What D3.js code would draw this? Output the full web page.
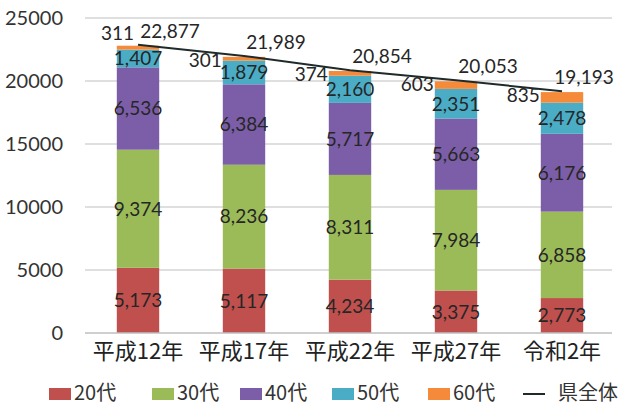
<!DOCTYPE html>
<html>
<head>
<meta charset="utf-8">
<script src="https://cdn.jsdelivr.net/npm/d3@7"></script>
<style>
  body { margin: 0; background: #fff; }
  svg { display: block; }
</style>
</head>
<body>
<script>
const w = 628
const h = 406

// Data: stacked counts by age group, plus the prefecture total line
const years = ["平成12年", "平成17年", "平成22年", "平成27年", "令和2年"]
const ageGroups = ["20代", "30代", "40代", "50代", "60代"]
const age20 = [5173, 5117, 4234, 3375, 2773]
const age30 = [9374, 8236, 8311, 7984, 6858]
const age40 = [6536, 6384, 5717, 5663, 6176]
const age50 = [1407, 1879, 2160, 2351, 2478]
const age60 = [311, 301, 374, 603, 835]
const totals = [22877, 21989, 20854, 20053, 19193]
const yTicks = [0, 5000, 10000, 15000, 20000, 25000]

const colors = ["#c0504d", "#9bbb59", "#7b5ea7", "#4bacc6", "#f58a3a"]
const lineColor = "#1e2b2a"

const numFont = "Lato, 'Open Sans', sans-serif"
const jpFont = "'Noto Sans CJK JP', sans-serif"

const rows = years.map((y, i) => ({
  year: y,
  "20代": age20[i], "30代": age30[i], "40代": age40[i], "50代": age50[i], "60代": age60[i]
}))

const svg = d3.select("body").append("svg")
  .attr("width", w)
  .attr("height", h)

const x = d3.scaleBand()
  .domain(years)
  .range([85, 615])
  .paddingInner(0.6)
  .paddingOuter(0.3)

const y = d3.scaleLinear()
  .domain([0, 25000])
  .range([333, 18])

// gridlines
svg.append("g")
  .selectAll("line")
  .data(yTicks.slice(1))
  .enter()
  .append("line")
    .attr("x1", 85).attr("x2", 612)
    .attr("y1", d => y(d)).attr("y2", d => y(d))
    .attr("stroke", "#d4d4d4")
    .attr("stroke-width", 1.5)

// y axis labels
const yAxis = d3.axisLeft(y).tickValues(yTicks).tickSize(0).tickPadding(0).tickFormat(d3.format("d"))
svg.append("g")
  .attr("transform", "translate(63,0)")
  .call(yAxis)
  .call(g => g.select(".domain").remove())
  .selectAll("text")
    .attr("font-family", numFont)
    .attr("font-size", 20)
    .attr("fill", "#333")

// stacked bars
const series = d3.stack().keys(ageGroups)(rows)

const layers = svg.append("g")
  .selectAll("g")
  .data(series)
  .enter()
  .append("g")
    .attr("fill", (d, i) => colors[i])

layers.selectAll("rect")
  .data(d => d)
  .enter()
  .append("rect")
    .attr("x", d => x(d.data.year))
    .attr("y", d => y(d[1]))
    .attr("width", x.bandwidth())
    .attr("height", d => y(d[0]) - y(d[1]))

// x axis
const xAxis = d3.axisBottom(x).tickSize(0).tickPadding(10)
svg.append("g")
  .attr("transform", "translate(0,333)")
  .call(xAxis)
  .call(g => g.select(".domain").attr("d", "M85,0H612").attr("stroke", "#bfbfbf").attr("stroke-width", 1.5))
  .selectAll("text")
    .attr("font-family", jpFont)
    .attr("font-size", 22)
    .attr("fill", "#222")

// segment labels (20代 - 50代 centered, 60代 to the left)
series.forEach((s, si) => {
  const g = svg.append("g")
    .attr("font-family", numFont)
    .attr("font-size", 19)
    .attr("fill", "#262626")
  s.forEach((d, i) => {
    const v = d[1] - d[0]
    const cx = x(d.data.year) + x.bandwidth() / 2
    if (si < 4) {
      g.append("text")
        .attr("x", cx)
        .attr("y", (y(d[0]) + y(d[1])) / 2)
        .attr("dy", "0.36em")
        .attr("text-anchor", "middle")
        .text(d3.format(",")(v))
    } else {
      // first one sits above the bar, the rest left of it
      const first = i === 0
      g.append("text")
        .attr("x", first ? cx - 4 : x(d.data.year) - 1)
        .attr("y", first ? y(d[1]) - 6 : y(d[1]) + 10)
        .attr("text-anchor", "end")
        .text(d3.format(",")(v))
    }
  })
})

// total line
const line = d3.line()
  .x((d, i) => x(years[i]) + x.bandwidth() / 2)
  .y(d => y(d))

svg.append("path")
  .datum(totals)
  .attr("d", line)
  .attr("fill", "none")
  .attr("stroke", lineColor)
  .attr("stroke-width", 2)

svg.append("g")
  .attr("font-family", numFont)
  .attr("font-size", 19)
  .attr("fill", "#262626")
  .selectAll("text")
  .data(totals)
  .enter()
  .append("text")
    .attr("x", (d, i) => Math.min(x(years[i]) + x.bandwidth() / 2 + 32, 584))
    .attr("y", d => y(d) - 7)
    .attr("text-anchor", "middle")
    .text(d => d3.format(",")(d))

// legend
const legendX = [49, 152, 240, 332, 428]
const legend = svg.append("g")
  .attr("font-family", jpFont)
  .attr("font-size", 20)
  .attr("fill", "#333")

ageGroups.forEach((a, i) => {
  legend.append("rect")
    .attr("x", legendX[i]).attr("y", 388)
    .attr("width", 22).attr("height", 12)
    .attr("fill", colors[i])
  legend.append("text")
    .attr("x", legendX[i] + 25)
    .attr("y", 400)
    .text(a)
})
legend.append("line")
  .attr("x1", 523).attr("x2", 545)
  .attr("y1", 394).attr("y2", 394)
  .attr("stroke", lineColor)
  .attr("stroke-width", 2)
legend.append("text")
  .attr("x", 558)
  .attr("y", 400)
  .text("県全体")
</script>
</body>
</html>
